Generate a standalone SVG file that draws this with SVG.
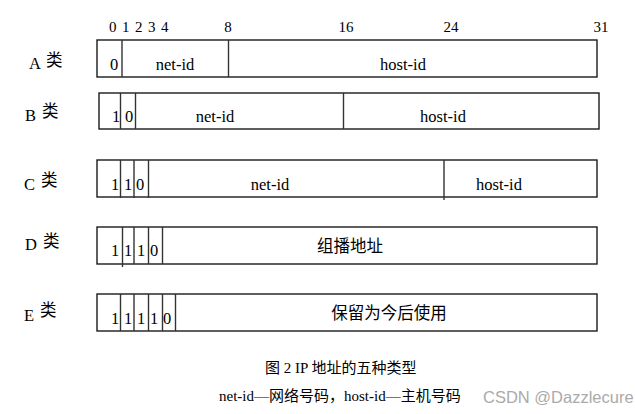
<svg xmlns="http://www.w3.org/2000/svg" width="635" height="414" viewBox="0 0 635 414">
<style>
.box{fill:#fff;stroke:#1a1a1a;stroke-width:1.4}
.div{stroke:#333;stroke-width:1.4}
.t{font-family:"Liberation Serif","Noto Sans CJK SC",serif;font-size:16.5px;fill:#000}
.s{font-size:15px}
.cap{font-size:15px}
.c{font-family:"Noto Sans CJK SC",sans-serif;font-size:16.5px;fill:#000}
.m{text-anchor:middle}
.w{font-family:"Liberation Sans",sans-serif;font-size:16.5px;fill:#aaa}
</style>
<rect width="635" height="414" fill="#fff"/>
<g id="scale">
<text class="t s" x="109" y="32">0</text>
<text class="t s" x="122" y="32">1</text>
<text class="t s" x="135" y="32">2</text>
<text class="t s" x="148" y="32">3</text>
<text class="t s" x="161" y="32">4</text>
<text class="t s m" x="228" y="32">8</text>
<text class="t s m" x="346" y="32">16</text>
<text class="t s m" x="451" y="32">24</text>
<text class="t s m" x="601" y="32">31</text>
</g>
<g id="classA">
<text class="t" x="29" y="69">A</text><text class="c" x="46" y="66">类</text>
<rect class="box" x="97" y="40" width="500" height="37"/>
<line class="div" x1="122" y1="40" x2="122" y2="77"/>
<line class="div" x1="228.5" y1="40" x2="228.5" y2="77"/>
<text class="t" x="110" y="70">0</text>
<text class="t m" x="175" y="70">net-id</text>
<text class="t m" x="403" y="70">host-id</text>
</g>
<g id="classB">
<text class="t" x="25" y="121">B</text><text class="c" x="42" y="117">类</text>
<rect class="box" x="99" y="93" width="500" height="36"/>
<line class="div" x1="120.5" y1="93" x2="120.5" y2="129"/>
<line class="div" x1="135.5" y1="93" x2="135.5" y2="129"/>
<line class="div" x1="343.5" y1="93" x2="343.5" y2="129"/>
<text class="t" x="112" y="122">1</text>
<text class="t" x="125" y="122">0</text>
<text class="t m" x="215" y="122">net-id</text>
<text class="t m" x="443" y="122">host-id</text>
</g>
<g id="classC">
<text class="t" x="24" y="190">C</text><text class="c" x="41" y="186">类</text>
<rect class="box" x="97" y="160" width="500" height="37"/>
<line class="div" x1="120.5" y1="160" x2="120.5" y2="198"/>
<line class="div" x1="134" y1="160" x2="134" y2="198"/>
<line class="div" x1="148.5" y1="160" x2="148.5" y2="198"/>
<line class="div" x1="444" y1="160" x2="444" y2="200"/>
<text class="t" x="111" y="190">1</text>
<text class="t" x="124" y="190">1</text>
<text class="t" x="136" y="190">0</text>
<text class="t m" x="270" y="190">net-id</text>
<text class="t m" x="499" y="190">host-id</text>
</g>
<g id="classD">
<text class="t" x="25" y="250">D</text><text class="c" x="43" y="247">类</text>
<rect class="box" x="97" y="227" width="500" height="37"/>
<line class="div" x1="122.5" y1="227" x2="122.5" y2="267"/>
<line class="div" x1="134" y1="227" x2="134" y2="264"/>
<line class="div" x1="148.5" y1="227" x2="148.5" y2="264"/>
<line class="div" x1="162.5" y1="227" x2="162.5" y2="264"/>
<text class="t" x="111" y="256">1</text>
<text class="t" x="124" y="256">1</text>
<text class="t" x="137" y="256">1</text>
<text class="t" x="150" y="256">0</text>
<text class="c m" x="350" y="252">组播地址</text>
</g>
<g id="classE">
<text class="t" x="24" y="321">E</text><text class="c" x="40" y="316">类</text>
<rect class="box" x="97" y="294" width="500" height="37"/>
<line class="div" x1="120.5" y1="294" x2="120.5" y2="331"/>
<line class="div" x1="134" y1="294" x2="134" y2="331"/>
<line class="div" x1="148.5" y1="294" x2="148.5" y2="331"/>
<line class="div" x1="162.5" y1="294" x2="162.5" y2="331"/>
<line class="div" x1="175.5" y1="294" x2="175.5" y2="331"/>
<text class="t" x="111" y="324">1</text>
<text class="t" x="124" y="324">1</text>
<text class="t" x="137" y="324">1</text>
<text class="t" x="150" y="324">1</text>
<text class="t" x="163" y="324">0</text>
<text class="c m" x="389" y="319">保留为今后使用</text>
</g>
<g id="caption">
<text class="t cap" x="265" y="373">图 2 IP 地址的五种类型</text>
<text class="t cap" x="219" y="401">net-id—网络号码，host-id—主机号码</text>
<text class="w" x="483" y="403">CSDN @Dazzlecure</text>
</g>
</svg>
